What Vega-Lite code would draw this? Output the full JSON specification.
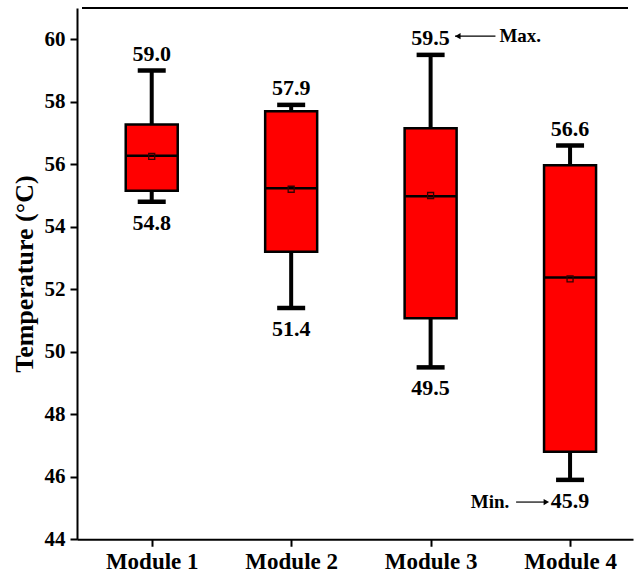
{
  "$schema": "https://vega.github.io/schema/vega-lite/v6.json",
  "autosize": {"type": "none"},
  "width": 556,
  "height": 531.25,
  "padding": {"left": 77, "top": 8, "right": 2, "bottom": 46},
  "background": "white",
  "view": {"stroke": "transparent", "fill": null},
  "config": {
    "view": {"stroke": null},
    "axis": {
      "labelFont": "Liberation Serif",
      "titleFont": "Liberation Serif",
      "labelFontWeight": "bold",
      "titleFontWeight": "bold",
      "labelColor": "black",
      "titleColor": "black",
      "domainColor": "black",
      "tickColor": "black",
      "domainWidth": 2,
      "tickWidth": 2,
      "grid": false
    }
  },
  "datasets": {
    "boxes": [
      {"module": "Module 1", "pos": 1, "min": 54.8, "q1": 55.15, "median": 56.27, "q3": 57.27, "max": 59.0, "mean": 56.25, "minLabel": "54.8", "maxLabel": "59.0"},
      {"module": "Module 2", "pos": 2, "min": 51.4, "q1": 53.2, "median": 55.23, "q3": 57.7, "max": 57.9, "mean": 55.2, "minLabel": "51.4", "maxLabel": "57.9"},
      {"module": "Module 3", "pos": 3, "min": 49.5, "q1": 51.07, "median": 54.98, "q3": 57.15, "max": 59.5, "mean": 55.0, "minLabel": "49.5", "maxLabel": "59.5"},
      {"module": "Module 4", "pos": 4, "min": 45.9, "q1": 46.8, "median": 52.38, "q3": 55.97, "max": 56.6, "mean": 52.33, "minLabel": "45.9", "maxLabel": "56.6"}
    ],
    "notes": [
      {"label": "Max.", "y": 60.1, "lineStart": 3.175, "lineEnd": 3.465, "head": 3.195, "shape": "triangle-left", "tx": 3.643},
      {"label": "Min.", "y": 45.19, "lineStart": 3.613, "lineEnd": 3.83, "head": 3.83, "shape": "triangle-right", "tx": 3.426}
    ],
    "frame": [
      {"y": 61, "xStart": 0.5, "xEnd": 4.4155}
    ]
  },
  "layer": [
    {
      "data": {"name": "boxes"},
      "mark": {"type": "rule", "color": "black", "strokeWidth": 4},
      "encoding": {
        "x": {
          "field": "pos", "type": "quantitative",
          "scale": {"domain": [0.5, 4.4155], "nice": false, "zero": false},
          "axis": {
            "values": [1, 2, 3, 4],
            "labelExpr": "'Module ' + datum.value",
            "labelFontSize": 23,
            "tickSize": 7,
            "labelPadding": 4,
            "title": null
          }
        },
        "y": {
          "field": "min", "type": "quantitative",
          "scale": {"domain": [44, 61], "nice": false, "zero": false},
          "axis": {
            "values": [44, 45, 46, 47, 48, 49, 50, 51, 52, 53, 54, 55, 56, 57, 58, 59, 60],
            "labelExpr": "datum.value % 2 === 0 ? datum.label : ''",
            "tickSize": {"condition": {"test": "datum.value % 2 === 0", "value": 7}, "value": 4},
            "labelFontSize": 21,
            "labelPadding": 5,
            "title": "Temperature (°C)",
            "titleFontSize": 26,
            "titlePadding": 7
          }
        },
        "y2": {"field": "max"}
      }
    },
    {
      "data": {"name": "boxes"},
      "mark": {"type": "bar", "fill": "#ff0000", "stroke": "black", "strokeWidth": 2.5, "width": 52},
      "encoding": {
        "x": {"field": "pos", "type": "quantitative"},
        "y": {"field": "q1", "type": "quantitative"},
        "y2": {"field": "q3"}
      }
    },
    {
      "data": {"name": "boxes"},
      "mark": {"type": "tick", "orient": "horizontal", "color": "black", "size": 52, "thickness": 2.5, "opacity": 1},
      "encoding": {
        "x": {"field": "pos", "type": "quantitative"},
        "y": {"field": "median", "type": "quantitative"}
      }
    },
    {
      "data": {"name": "boxes"},
      "mark": {"type": "point", "shape": "square", "size": 36, "filled": false, "stroke": "#330000", "strokeWidth": 1.3, "opacity": 1},
      "encoding": {
        "x": {"field": "pos", "type": "quantitative"},
        "y": {"field": "mean", "type": "quantitative"}
      }
    },
    {
      "data": {"name": "boxes"},
      "mark": {"type": "tick", "orient": "horizontal", "color": "black", "size": 28, "thickness": 4.5, "opacity": 1},
      "encoding": {
        "x": {"field": "pos", "type": "quantitative"},
        "y": {"field": "max", "type": "quantitative"}
      }
    },
    {
      "data": {"name": "boxes"},
      "mark": {"type": "tick", "orient": "horizontal", "color": "black", "size": 28, "thickness": 4.5, "opacity": 1},
      "encoding": {
        "x": {"field": "pos", "type": "quantitative"},
        "y": {"field": "min", "type": "quantitative"}
      }
    },
    {
      "data": {"name": "boxes"},
      "mark": {"type": "text", "font": "Liberation Serif", "fontWeight": "bold", "fontSize": 22, "color": "black", "baseline": "alphabetic", "dy": -10},
      "encoding": {
        "x": {"field": "pos", "type": "quantitative"},
        "y": {"field": "max", "type": "quantitative"},
        "text": {"field": "maxLabel"}
      }
    },
    {
      "data": {"name": "boxes"},
      "mark": {"type": "text", "font": "Liberation Serif", "fontWeight": "bold", "fontSize": 22, "color": "black", "baseline": "alphabetic", "dy": 28},
      "encoding": {
        "x": {"field": "pos", "type": "quantitative"},
        "y": {"field": "min", "type": "quantitative"},
        "text": {"field": "minLabel"}
      }
    },
    {
      "data": {"name": "notes"},
      "mark": {"type": "rule", "color": "black", "strokeWidth": 1.2},
      "encoding": {
        "x": {"field": "lineStart", "type": "quantitative"},
        "x2": {"field": "lineEnd"},
        "y": {"field": "y", "type": "quantitative"}
      }
    },
    {
      "data": {"name": "notes"},
      "mark": {"type": "point", "filled": true, "color": "black", "size": 40, "opacity": 1},
      "encoding": {
        "x": {"field": "head", "type": "quantitative"},
        "y": {"field": "y", "type": "quantitative"},
        "shape": {"field": "shape", "type": "nominal", "scale": null, "legend": null}
      }
    },
    {
      "data": {"name": "notes"},
      "mark": {"type": "text", "font": "Liberation Serif", "fontWeight": "bold", "fontSize": 19, "color": "black", "baseline": "middle"},
      "encoding": {
        "x": {"field": "tx", "type": "quantitative"},
        "y": {"field": "y", "type": "quantitative"},
        "text": {"field": "label"}
      }
    },
    {
      "data": {"name": "frame"},
      "mark": {"type": "rule", "color": "black", "strokeWidth": 2},
      "encoding": {
        "x": {"field": "xStart", "type": "quantitative"},
        "x2": {"field": "xEnd"},
        "y": {"field": "y", "type": "quantitative"}
      }
    }
  ]
}
